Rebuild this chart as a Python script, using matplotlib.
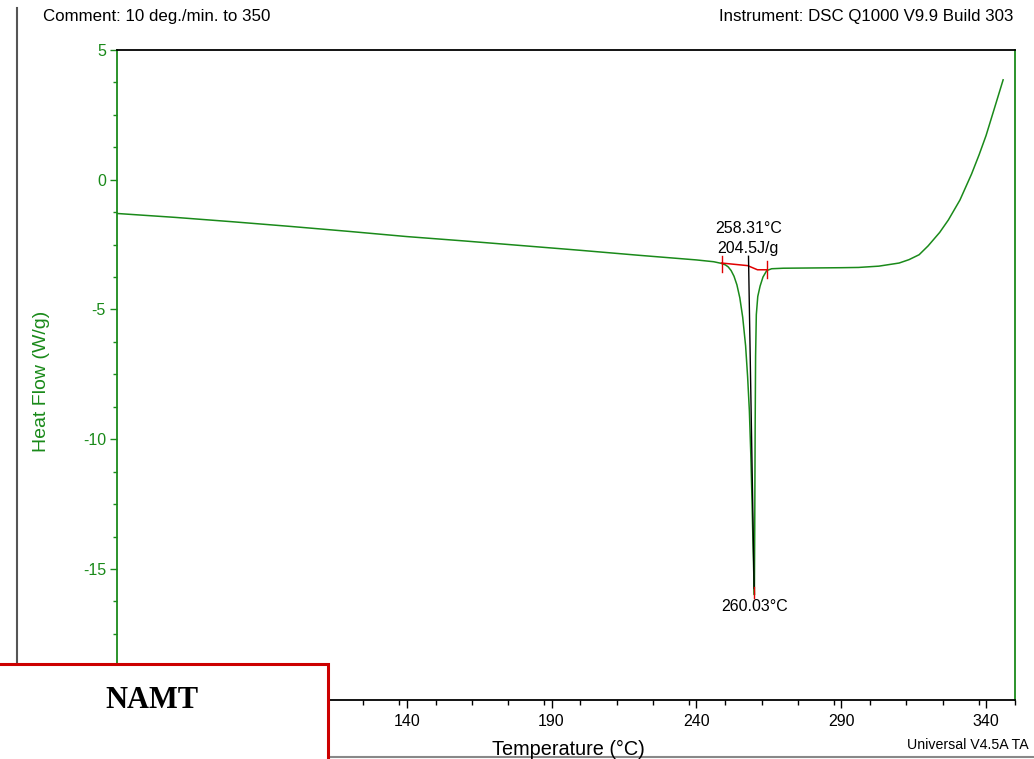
import matplotlib
matplotlib.use("Agg")
import matplotlib.pyplot as plt
from matplotlib.patches import Rectangle
from matplotlib.lines import Line2D
from matplotlib.ticker import MultipleLocator

# ---- data ----
temperature = [40, 60, 80, 100, 120, 140, 160, 180, 200, 220, 240, 246, 248.5,
               250, 251, 252, 253, 254, 255, 256, 257, 257.7, 258.3, 258.8, 259.2,
               259.6, 259.85, 260.03, 260.15, 260.3, 260.45, 260.7, 261.2, 262,
               263, 264.3, 266, 270, 280, 290, 296, 303, 310, 313.4, 316.9, 320,
               324, 327, 331, 333, 335, 337.6, 340, 343.3, 345.9]
heat_flow = [-1.30, -1.45, -1.62, -1.80, -1.99, -2.19, -2.36, -2.54, -2.72, -2.91,
             -3.09, -3.16, -3.22, -3.28, -3.36, -3.50, -3.72, -4.05, -4.55, -5.30,
             -6.40, -7.60, -8.90, -10.6, -12.3, -14.2, -15.3, -16.0, -13.5, -9.5,
             -6.8, -5.2, -4.5, -4.1, -3.75, -3.50, -3.43, -3.41, -3.40, -3.39,
             -3.38, -3.33, -3.21, -3.08, -2.89, -2.55, -2.03, -1.55, -0.78, -0.28,
             0.22, 0.96, 1.70, 2.90, 3.85]

# integration baseline (red) and peak marker
baseline_t = [248.7, 257.7, 261.1, 264.3]
baseline_hf = [-3.21, -3.31, -3.47, -3.47]
peak_line_t = [258.0, 259.95]
peak_line_hf = [-2.95, -15.75]
peak_temp = 260.03
peak_hf = -16.0
onset_temp_label = "258.31°C"
enthalpy_label = "204.5J/g"
peak_label = "260.03°C"

x_major = [40, 90, 140, 190, 240, 290, 340]
y_major = [5, 0, -5, -10, -15, -20]

GREEN = "#1a8a1a"
RED = "#e00000"

plt.rcParams['font.family'] = ['Liberation Sans', 'DejaVu Sans']
plt.rcParams['axes.unicode_minus'] = False

W, H = 1034, 759
fig = plt.figure(figsize=(W / 100, H / 100), dpi=100)
ax = fig.add_axes([117 / W, 1 - 700 / H, (1015 - 117) / W, (700 - 50) / H])

ax.plot(temperature, heat_flow, color=GREEN, lw=1.1, zorder=3)
ax.plot(baseline_t, baseline_hf, color=RED, lw=1.1, zorder=4)
ax.plot(peak_line_t, peak_line_hf, color="black", lw=1.0, zorder=5)
ax.plot([peak_temp, peak_temp], [-15.7, -16.1], color=RED, lw=1.0, zorder=5)
# red vertical limit ticks
ax.plot([baseline_t[0]] * 2, [-2.95, -3.57], color=RED, lw=1.0, zorder=5)
ax.plot([baseline_t[-1]] * 2, [-3.15, -3.79], color=RED, lw=1.0, zorder=5)

ax.text(257.9, -1.89, onset_temp_label, ha="center", va="center", fontsize=11.5)
ax.text(257.9, -2.66, enthalpy_label, ha="center", va="center", fontsize=11.5)
ax.text(peak_temp, -16.45, peak_label, ha="center", va="center", fontsize=11.5)

ax.set_xlim(40, 350)
ax.set_ylim(-20.05, 5)
ax.set_xticks(x_major)
ax.set_yticks(y_major)
ax.xaxis.set_minor_locator(MultipleLocator(12.5))
ax.yaxis.set_minor_locator(MultipleLocator(1.25))
ax.tick_params(axis="x", which="major", direction="out", length=6, width=1,
               colors="black", labelsize=11.5, pad=4)
ax.tick_params(axis="x", which="minor", direction="out", length=3.5, width=1,
               colors="black")
ax.tick_params(axis="y", which="major", direction="out", length=5, width=1,
               colors=GREEN, labelsize=11.5, pad=3)
ax.tick_params(axis="y", which="minor", direction="out", length=3, width=1,
               colors=GREEN)
ax.spines["left"].set_color(GREEN)
ax.spines["right"].set_color(GREEN)
ax.spines["top"].set_color("black")
ax.spines["bottom"].set_color("black")
for s in ax.spines.values():
    s.set_linewidth(1.3)

fig.text(42 / W, 1 - 381 / H, "Heat Flow (W/g)", color=GREEN, fontsize=14,
         rotation=90, ha="center", va="center")

fig.text(43 / W, 1 - 16 / H, "Comment: 10 deg./min. to 350", fontsize=12.2,
         ha="left", va="center")
fig.text(1013 / W, 1 - 16 / H, "Instrument: DSC Q1000 V9.9 Build 303",
         fontsize=12.2, ha="right", va="center")
fig.text(568 / W, 1 - 749 / H, "Temperature (°C)", fontsize=14.3,
         ha="center", va="center")
fig.text(907 / W, 1 - 745 / H, "Universal V4.5A TA", fontsize=10.2,
         ha="left", va="center")

# frame lines of the surrounding page
fig.add_artist(Line2D([17 / W, 17 / W], [1 - 8 / H, 1 - 664 / H],
                      color="#555555", lw=1.5, transform=fig.transFigure))
fig.add_artist(Line2D([328 / W, 1], [1 - 757 / H, 1 - 757 / H],
                      color="#888888", lw=1.5, transform=fig.transFigure))

# red-bordered label box
fig.add_artist(Rectangle((-0.01, -0.05), (328 + 10) / W, (759 - 664) / H + 0.05,
                         transform=fig.transFigure, facecolor="white",
                         edgecolor="#cc0000", lw=2.2, zorder=10))
fig.text(152 / W, 1 - 700 / H, "NAMT", fontsize=22, fontweight="bold",
         family=["Liberation Serif", "DejaVu Serif"], ha="center", va="center",
         zorder=11)

fig.savefig("out.png", dpi=100)
